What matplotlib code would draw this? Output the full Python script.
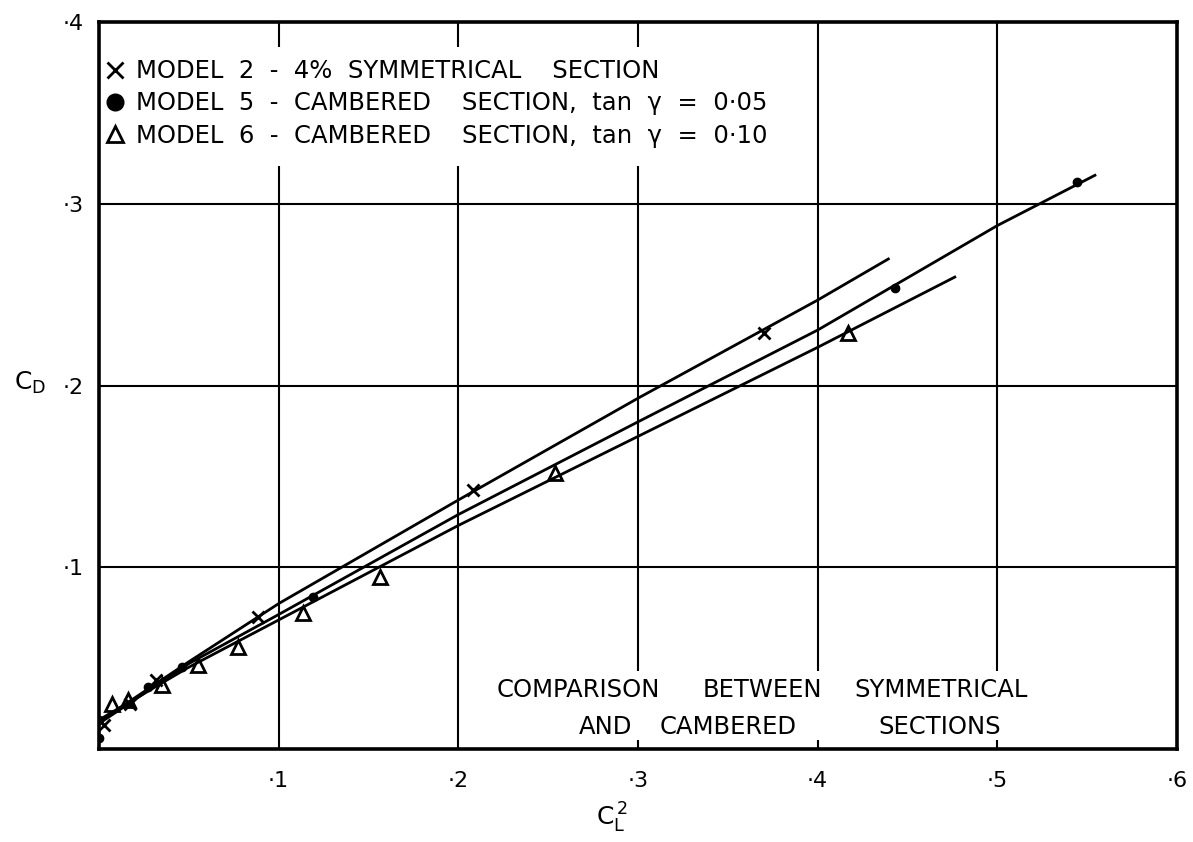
import matplotlib
matplotlib.use("Agg")
import matplotlib.pyplot as plt
from matplotlib.lines import Line2D
from matplotlib.patches import Rectangle

# ---- data ----
xticks = [0.1, 0.2, 0.3, 0.4, 0.5, 0.6]
xtick_labels = ["·1", "·2", "·3", "·4", "·5", "·6"]
yticks = [0.1, 0.2, 0.3, 0.4]
ytick_labels = ["·1", "·2", "·3", "·4"]

m2_x = [0.003, 0.017, 0.032, 0.0885, 0.208, 0.370]
m2_y = [0.013, 0.025, 0.038, 0.0727, 0.1425, 0.229]
m5_x = [0.0, 0.0, 0.027, 0.046, 0.119, 0.443, 0.5445]
m5_y = [0.006, 0.016, 0.034, 0.045, 0.0836, 0.2536, 0.312]
m6_x = [0.007, 0.016, 0.035, 0.055, 0.0775, 0.1137, 0.1565, 0.254, 0.417]
m6_y = [0.025, 0.027, 0.035, 0.046, 0.056, 0.0748, 0.0946, 0.152, 0.229]

l2_x = [0.0, 0.05, 0.1, 0.2, 0.3, 0.4, 0.44]
l2_y = [0.015, 0.048, 0.080, 0.137, 0.193, 0.247, 0.270]
l5_x = [0.0, 0.05, 0.1, 0.2, 0.3, 0.4, 0.5, 0.555]
l5_y = [0.014, 0.047, 0.074, 0.129, 0.180, 0.2305, 0.288, 0.316]
l6_x = [0.0, 0.05, 0.1, 0.2, 0.3, 0.4, 0.477]
l6_y = [0.016, 0.045, 0.071, 0.123, 0.172, 0.221, 0.260]

labels = [
    "MODEL  2  -  4%  SYMMETRICAL    SECTION",
    "MODEL  5  -  CAMBERED    SECTION,  tan  γ  =  0·05",
    "MODEL  6  -  CAMBERED    SECTION,  tan  γ  =  0·10",
]
note_row1 = ["COMPARISON", "BETWEEN", "SYMMETRICAL"]
note_row2 = ["AND", "CAMBERED", "SECTIONS"]

plt.rcParams['font.family'] = ['DejaVu Sans']
W, H = 1193, 842
fig = plt.figure(figsize=(W / 100, H / 100), dpi=100)
ax = fig.add_axes([99 / W, 1 - 749 / H, (1177 - 99) / W, (749 - 22) / H])
ax.set_xlim(0, 0.6)
ax.set_ylim(0, 0.4)

# grid
for xv in xticks[:-1]:
    ax.axvline(xv, color='black', lw=1.5, zorder=1)
for yv in yticks[:-1]:
    ax.axhline(yv, color='black', lw=1.5, zorder=1)

# white blanking behind texts (gaps in grid)
ax.add_patch(Rectangle((0.004, 0.321), 0.37, 0.065, facecolor='white',
                       edgecolor='none', zorder=2))
ax.add_patch(Rectangle((0.215, 0.005), 0.31, 0.038, facecolor='white',
                       edgecolor='none', zorder=2))

# curves
for lx, ly in [(l2_x, l2_y), (l5_x, l5_y), (l6_x, l6_y)]:
    ax.plot(lx, ly, color='black', lw=2.0, zorder=3, solid_capstyle='butt')

ax.plot(m2_x, m2_y, linestyle='none', marker='x', ms=9, mew=2.0,
        color='black', zorder=4)
ax.plot(m5_x, m5_y, linestyle='none', marker='o', ms=6, color='black', zorder=4)
ax.plot(m6_x, m6_y, linestyle='none', marker='^', ms=10, mew=2.0,
        mfc='none', mec='black', zorder=4)

# spines / ticks
for s in ax.spines.values():
    s.set_linewidth(2.6)
    s.set_zorder(5)
ax.set_xticks(xticks)
ax.set_xticklabels(xtick_labels, fontsize=16)
ax.set_yticks(yticks)
ax.set_yticklabels(ytick_labels, fontsize=16)
ax.tick_params(length=0, pad=16, axis='x')
ax.tick_params(length=0, pad=11, axis='y')

# legend
handles = [
    Line2D([], [], linestyle='none', marker='x', ms=12, mew=2, color='black'),
    Line2D([], [], linestyle='none', marker='o', ms=12, color='black'),
    Line2D([], [], linestyle='none', marker='^', ms=12, mew=2, mfc='none', mec='black'),
]
leg = ax.legend(handles, labels, loc='upper left', bbox_to_anchor=(0.006, 0.949),
                frameon=False, fontsize=17.5, handlelength=0.8, handletextpad=0.45,
                labelspacing=0.34, borderaxespad=0, borderpad=0)
leg.set_zorder(6)

# note (word by word, as lettered)
row1_x = [0.2215, 0.336, 0.4205]
row2_x = [0.267, 0.312, 0.434]
for wx, wd in zip(row1_x, note_row1):
    ax.text(wx, 0.0325, wd, ha='left', va='center', fontsize=17.5, zorder=6)
for wx, wd in zip(row2_x, note_row2):
    ax.text(wx, 0.0122, wd, ha='left', va='center', fontsize=17.5, zorder=6)

# axis labels
fig.text(612 / W, 1 - 818 / H, r"$\mathregular{C_L^{\,2}}$", ha='center', va='center',
         fontsize=18)
fig.text(30 / W, 1 - 383 / H, r"$\mathregular{C_D}$", ha='center', va='center',
         fontsize=18)

fig.savefig("out.png", dpi=100)
